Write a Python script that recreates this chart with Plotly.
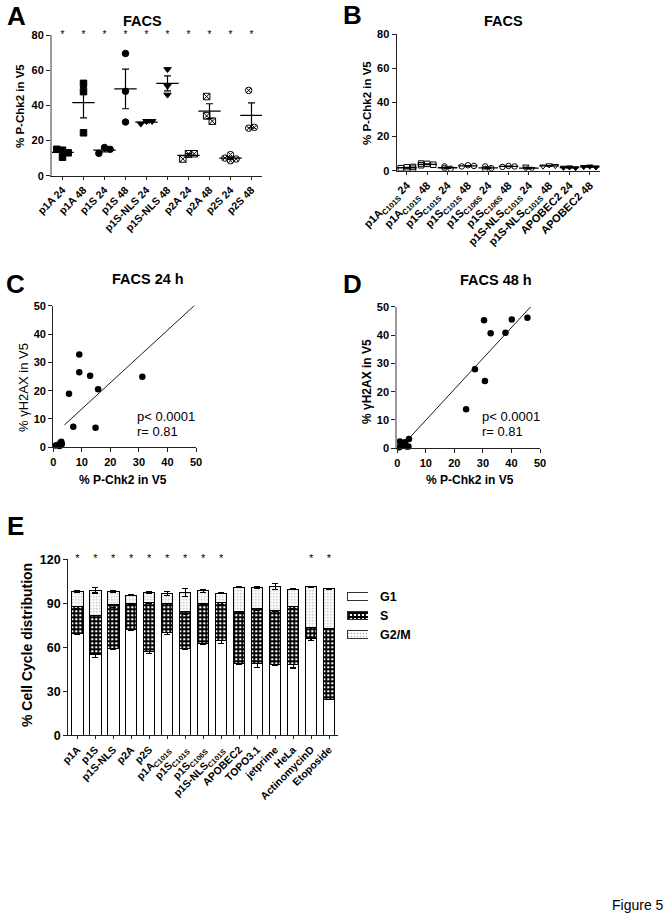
import numpy as np
import plotly.graph_objects as go

W, H = 671, 919
FONT = "Liberation Sans, Arial, sans-serif"

# ---------------- Panel A data ----------------
a_labels = ["p1A 24", "p1A 48", "p1S 24", "p1S 48", "p1S-NLS 24", "p1S-NLS 48",
            "p2A 24", "p2A 48", "p2S 24", "p2S 48"]
a_values = [[14.5, 10.5, 13, 15], [52.5, 47.8, 24.4], [16, 15, 12.7], [69.5, 48, 30.5],
            [31, 31, 29.5], [60.5, 51, 46], [12.5, 12.5, 9.5], [45, 34, 31],
            [12, 9.5, 8.5, 10], [48.5, 27, 27.5]]
a_symbols = ["square", "square", "circle", "circle", "triangle-down", "triangle-down",
             "square-x-open", "square-x-open", "circle-x-open", "circle-x-open"]
a_star = [1, 1, 1, 1, 1, 1, 1, 1, 1, 1]

# ---------------- Panel B data ----------------
b_labels = ["p1A<sub>C101S</sub> 24", "p1A<sub>C101S</sub> 48", "p1S<sub>C101S</sub> 24",
            "p1S<sub>C101S</sub> 48", "p1S<sub>C106S</sub> 24", "p1S<sub>C106S</sub> 48",
            "p1S-NLS<sub>C101S</sub> 24", "p1S-NLS<sub>C101S</sub> 48", "APOBEC2 24", "APOBEC2 48"]
b_values = [[2, 1.2, 2.2, 1.5], [4, 3.5, 4.2, 3.2], [2.5, 1.5, 1.2], [3.2, 2.8, 2.5],
            [2.5, 1.0, 1.5], [2.8, 2.5, 2.2], [2.5, 1.2, 1.0], [3.2, 2.8, 2.5],
            [2, 1.5, 1.8], [2.5, 2, 2.2]]
b_symbols = ["square-open", "square-open", "circle-open", "circle-open", "circle-open",
             "circle-open", "triangle-down-open", "triangle-down-open", "triangle-down",
             "triangle-down"]

# ---------------- Panel C data ----------------
c_x = [9.1, 9.1, 12.9, 15.7, 5.5, 7.0, 14.8, 31.2, 0.8, 1.5, 2.5, 2.8, 2.2, 3.0, 2.0]
c_y = [32.8, 26.5, 25.3, 20.5, 18.9, 7.3, 6.9, 24.9, 0.6, 0.8, 1.5, 2.0, 0.5, 1.2, 0.9]
c_fit = {"slope": 0.926, "intercept": 4.29, "x0": 3.9, "x1": 49.6}

# ---------------- Panel D data ----------------
d_x = [30.4, 40.1, 45.6, 32.7, 37.9, 27.2, 30.7, 24.1, 0.9, 1.5, 2.3, 3.3, 4.1, 3.9, 0.7, 2.7]
d_y = [45.2, 45.5, 46.1, 40.6, 40.8, 27.9, 23.8, 13.8, 2.4, 1.8, 1.2, 0.6, 3.3, 0.6, 0.4, 2.1]
d_fit = {"slope": 1.09, "intercept": -0.96, "x0": 3.9, "x1": 46.7}

# ---------------- Panel E data ----------------
e_labels = ["p1A", "p1S", "p1S-NLS", "p2A", "p2S", "p1A<sub>C101S</sub>", "p1S<sub>C101S</sub>",
            "p1S<sub>C106S</sub>", "p1S-NLS<sub>C101S</sub>", "APOBEC2", "TOPO3.1", "jetprime",
            "HeLa", "ActinomycinD", "Etoposide"]
e_g1_top = [69.5, 54.8, 59.3, 71.8, 57.0, 70.0, 59.3, 62.7, 64.3, 49.0, 49.0, 48.4, 48.4, 66.0, 24.5]
e_s_top = [87.7, 82.0, 88.9, 90.0, 90.5, 90.0, 84.3, 90.0, 90.5, 84.3, 86.6, 85.0, 87.7, 73.4, 72.5]
e_total = [98.0, 99.0, 98.0, 95.5, 97.3, 96.8, 97.3, 98.4, 96.8, 100.9, 100.9, 101.4, 99.5, 101.4, 99.8]
e_g1_err = [1, 1.5, 1, 0.5, 1, 1, 0.8, 0.5, 1.5, 1, 2.5, 0.5, 2.5, 1.2, 0.3]
e_s_err = [1.5, 0.5, 2, 1, 0.5, 1.5, 2, 0.5, 1.5, 0.5, 1.5, 0.5, 1.5, 1.5, 0.3]
e_tot_err = [0.5, 2, 0.7, 0.3, 0.8, 1.5, 2.5, 1, 0.3, 0.3, 0.5, 1.8, 0.3, 0.3, 0.3]
e_star = [1, 1, 1, 1, 1, 1, 1, 1, 1, 0, 0, 0, 0, 1, 1]
phase_names = ["G1", "S", "G2/M"]

e_g1 = e_g1_top
e_s = [s - g for s, g in zip(e_s_top, e_g1_top)]
e_g2m = [t - s for t, s in zip(e_total, e_s_top)]


def xd(a, b):
    return [a / W, b / W]


def yd(top, bottom):
    return [1 - bottom / H, 1 - top / H]


def swarm(vals, tol, step):
    placed, offs = [], []
    for v in vals:
        chosen = 0
        for k in [0, 1, -1, 2, -2, 3, -3]:
            o = k * step
            if all(abs(o - po) >= step * 0.99 or abs(v - pv) >= tol for po, pv in placed):
                chosen = o
                break
        placed.append((chosen, v))
        offs.append(chosen)
    m = (max(offs) + min(offs)) / 2
    return [o - m for o in offs]


fig = go.Figure()


def dot_panel(values, symbols, xa, ya, msize, mean_w, tol, step):
    for i, vals in enumerate(values):
        v = np.array(vals, dtype=float)
        mean = v.mean()
        sem = v.std(ddof=1) / np.sqrt(len(v))
        fig.add_trace(go.Scatter(
            x=[i], y=[mean], mode="markers", xaxis=xa, yaxis=ya, showlegend=False,
            marker=dict(symbol="line-ew", size=mean_w, line=dict(color="black", width=1.3)),
            error_y=dict(type="data", array=[sem], color="black", thickness=1.2, width=3.5)))
        offs = swarm(vals, tol, step)
        fig.add_trace(go.Scatter(
            x=[i + o for o in offs], y=vals, mode="markers", xaxis=xa, yaxis=ya, showlegend=False,
            marker=dict(symbol=symbols[i], size=msize, color="black",
                        line=dict(color="black", width=1))))


dot_panel(a_values, a_symbols, "x", "y", 6.5, 16, 3.5, 0.27)
dot_panel(b_values, b_symbols, "x2", "y2", 5.5, 14, 1.0, 0.3)

# asterisks A
fig.add_trace(go.Scatter(
    x=[i for i, s in enumerate(a_star) if s], y=[80] * sum(a_star), mode="text",
    text=["*"] * sum(a_star), textposition="middle center", xaxis="x", yaxis="y",
    showlegend=False, cliponaxis=False, textfont=dict(family=FONT, size=10, color="#000000")))

# ---------- C & D ----------
for xs, ys, fit, xa, ya in [(c_x, c_y, c_fit, "x3", "y3"), (d_x, d_y, d_fit, "x4", "y4")]:
    lx = [fit["x0"], fit["x1"]]
    ly = [fit["intercept"] + fit["slope"] * x for x in lx]
    fig.add_trace(go.Scatter(x=lx, y=ly, mode="lines", xaxis=xa, yaxis=ya, showlegend=False,
                             line=dict(color="black", width=0.9)))
    fig.add_trace(go.Scatter(x=xs, y=ys, mode="markers", xaxis=xa, yaxis=ya, showlegend=False,
                             cliponaxis=False,
                             marker=dict(symbol="circle", size=6.5, color="black")))

# ---------- E stacked bars ----------
patterns = [
    dict(shape=""),
    dict(shape="+", fgcolor="black", bgcolor="white", size=4, solidity=0.7, fgopacity=1),
    dict(shape=".", fgcolor="#555555", bgcolor="white", size=3, solidity=0.2),
]
xi = list(range(len(e_labels)))
for name, vals, errs, pat in zip(phase_names, [e_g1, e_s, e_g2m],
                                 [e_g1_err, e_s_err, e_tot_err], patterns):
    fig.add_trace(go.Bar(
        x=xi, y=vals, name=name, xaxis="x5", yaxis="y5", width=0.64, showlegend=False,
        marker=dict(color="white", line=dict(color="black", width=1), pattern=pat),
        error_y=dict(type="data", array=errs, color="black", thickness=1.1, width=3)))

fig.add_trace(go.Scatter(
    x=[i for i, s in enumerate(e_star) if s], y=[120] * sum(e_star), mode="text",
    text=["*"] * sum(e_star), textposition="middle center", xaxis="x5", yaxis="y5",
    showlegend=False, cliponaxis=False, textfont=dict(family=FONT, size=11, color="#000000")))

# custom legend swatches (own mini axis)
for k, (name, pat) in enumerate(zip(phase_names, patterns)):
    fig.add_trace(go.Bar(
        x=[1], y=[k], orientation="h", xaxis="x6", yaxis="y6", width=0.38, showlegend=False,
        marker=dict(color="white", line=dict(color="#333", width=1), pattern=pat),
        hoverinfo="skip"))


def ax(domain, anchor, rng, **kw):
    d = dict(domain=domain, anchor=anchor, range=rng, showline=True, linecolor="#222",
             linewidth=1.3, ticks="outside", ticklen=4, tickwidth=1.2, tickcolor="#222",
             showgrid=False, zeroline=False, automargin=False,
             tickfont=dict(family=FONT, size=11, color="black", weight="bold"))
    d.update(kw)
    return d


cat_font = dict(family=FONT, size=10.5, color="black", weight="bold")
cat_font_b = dict(family=FONT, size=11, color="black", weight="bold")

layout = dict(
    width=W, height=H, margin=dict(l=0, r=0, t=0, b=0),
    paper_bgcolor="white", plot_bgcolor="white", barmode="stack", showlegend=False,
    font=dict(family=FONT, color="black"),
    xaxis=ax(xd(52, 262), "y", [-0.5, 9.5], tickvals=list(range(10)), ticktext=a_labels,
             tickangle=-45, tickfont=cat_font, ticklen=3),
    yaxis=ax(yd(35, 175.7), "x", [0, 80], tickvals=[0, 20, 40, 60, 80],
             linecolor="#9a9a9a", linewidth=2),
    xaxis2=ax(xd(396.7, 600), "y2", [-0.5, 9.5], tickvals=list(range(10)), ticktext=b_labels,
              tickangle=-45, tickfont=cat_font_b, ticklen=3),
    yaxis2=ax(yd(34.3, 170.7), "x2", [0, 80], tickvals=[0, 20, 40, 60, 80]),
    xaxis3=ax(xd(53.3, 196), "y3", [0, 50], tickvals=[0, 10, 20, 30, 40, 50]),
    yaxis3=ax(yd(305.7, 447.3), "x3", [0, 50], tickvals=[0, 10, 20, 30, 40, 50]),
    xaxis4=ax(xd(397.3, 540), "y4", [0, 50], tickvals=[0, 10, 20, 30, 40, 50]),
    yaxis4=ax(yd(306.7, 448.3), "x4", [0, 50], tickvals=[0, 10, 20, 30, 40, 50],
              linecolor="#9a9a9a", linewidth=2),
    xaxis5=ax(xd(68.3, 338), "y5", [-0.5, 14.5], tickvals=xi, ticktext=e_labels,
              tickangle=-45, tickfont=cat_font, ticklen=3),
    yaxis5=ax(yd(559.3, 735.3), "x5", [0, 120], tickvals=[0, 30, 60, 90, 120],
              tickfont=dict(family=FONT, size=12.5, color="black", weight="bold")),
    xaxis6=dict(domain=xd(347, 368), anchor="y6", range=[0, 1], visible=False, fixedrange=True),
    yaxis6=dict(domain=yd(587, 644), anchor="x6", range=[2.5, -0.5], visible=False, fixedrange=True),
)
fig.update_layout(**layout)


def px_ann(text, x, y, size, bold=True, angle=0, xanchor="center"):
    fig.add_annotation(text=text, x=x / W, y=1 - y / H, xref="paper", yref="paper",
                       showarrow=False, textangle=angle, xanchor=xanchor, yanchor="middle",
                       font=dict(family=FONT, size=size, color="black",
                                 weight="bold" if bold else "normal"))


for letter, x, y in [("A", 16, 16), ("B", 352, 15), ("C", 15, 284), ("D", 352, 284), ("E", 15, 526)]:
    px_ann(letter, x, y, 26)

px_ann("FACS", 142, 21, 14.5)
px_ann("FACS", 503, 21, 14.5)
px_ann("FACS 24 h", 148, 279, 14.5)
px_ann("FACS 48 h", 496, 280, 14.5)

px_ann("% P-Chk2 in V5", 20, 106, 11.5, angle=-90)
px_ann("% P-Chk2 in V5", 367, 103, 11.5, angle=-90)
px_ann("% \u03b3H2AX in V5", 23, 388, 13, bold=False, angle=-90)
px_ann("% \u03b3H2AX in V5", 367, 382, 12, angle=-90)
px_ann("% P-Chk2 in V5", 123, 480, 12)
px_ann("% P-Chk2 in V5", 470, 480, 12)
px_ann("% Cell Cycle distribution", 27, 645, 14, angle=-90)

for k, name in enumerate(phase_names):
    fig.add_annotation(text=name, x=0, y=k, xref="x6", yref="y6", xshift=(378 - 347),
                       showarrow=False, xanchor="left", yanchor="middle",
                       font=dict(family=FONT, size=12.5, color="black", weight="bold"))

for xa, ya, xpos, yp, yr in [("x3", "y3", 28.6, 10.8, 5.5), ("x4", "y4", 29.0, 11.2, 6.1)]:
    fig.add_annotation(text="p< 0.0001", x=xpos, y=yp, xref=xa, yref=ya, showarrow=False,
                       xanchor="left", yanchor="middle",
                       font=dict(family=FONT, size=13, color="black"))
    fig.add_annotation(text="r= 0.81", x=xpos, y=yr, xref=xa, yref=ya, showarrow=False,
                       xanchor="left", yanchor="middle",
                       font=dict(family=FONT, size=13, color="black"))

px_ann("Figure 5", 666, 905, 14, bold=False, xanchor="right")

fig.write_html(
    "out.html",
    config={"displayModeBar": False},
    post_script="document.body.style.margin='0';document.body.style.overflow='hidden';",
)
